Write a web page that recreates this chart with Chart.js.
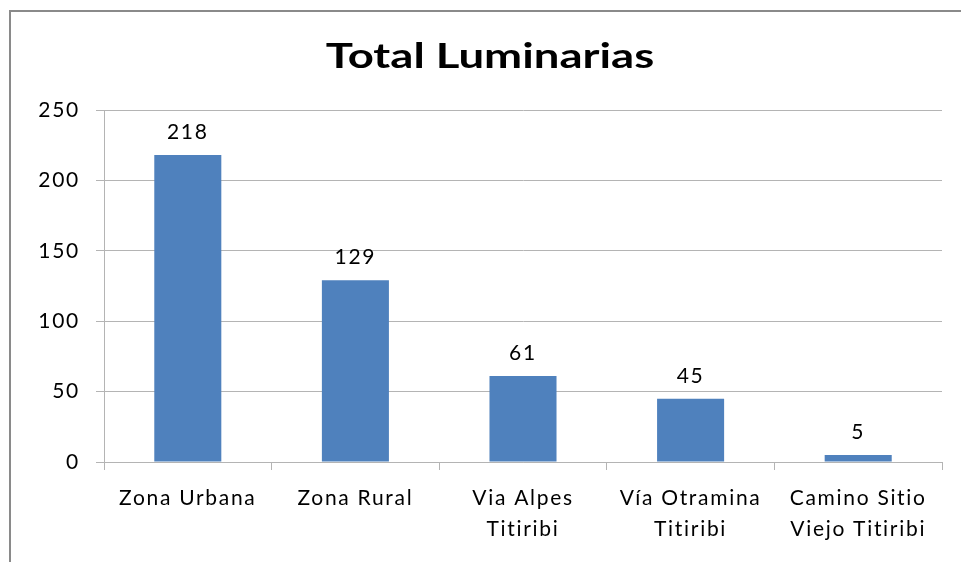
<!DOCTYPE html>
<html>
<head>
<meta charset="utf-8">
<script src="https://cdn.jsdelivr.net/npm/chart.js@4"></script>
<style>
  html, body { margin: 0; padding: 0; background: #fff; }
  #wrap { width: 961px; height: 562px; position: relative; }
</style>
</head>
<body>
<div id="wrap"><canvas id="chart" width="961" height="562"></canvas></div>
<script>
const chartTitle = 'Total Luminarias';
const categories = [
  'Zona Urbana',
  'Zona Rural',
  ['Via Alpes', 'Titiribi'],
  ['Vía Otramina', 'Titiribi'],
  ['Camino Sitio', 'Viejo Titiribi']
];
const totals = [218, 129, 61, 45, 5];
const yTicks = [0, 50, 100, 150, 200, 250];

const fontFamily = 'Lato, "Open Sans", sans-serif';
const gridGray = '#b4b4b4';
const spacing = '1.7px';

// frame + title, and the wide letter spacing of the original
const framePlugin = {
  id: 'frame',
  beforeUpdate(chart) {
    chart.ctx.letterSpacing = spacing;
  },
  beforeDraw(chart) {
    const c = chart.ctx;
    c.letterSpacing = spacing;
    c.save();
    c.fillStyle = '#fff';
    c.fillRect(0, 0, chart.width, chart.height);
    c.strokeStyle = '#8a8a8a';
    c.lineWidth = 2;
    c.beginPath();
    c.moveTo(10, chart.height + 5);
    c.lineTo(10, 11);
    c.lineTo(chart.width + 5, 11);
    c.stroke();
    c.restore();
  },
  afterDraw(chart) {
    const c = chart.ctx;
    c.save();
    c.letterSpacing = '0px';
    c.fillStyle = '#000';
    c.font = 'bold 35px ' + fontFamily;
    c.textAlign = 'center';
    c.textBaseline = 'alphabetic';
    c.translate(490, 68);
    c.scale(1.3, 1);
    c.fillText(chartTitle, 0, 0);
    c.restore();
  }
};

// value labels above bars
const valuePlugin = {
  id: 'values',
  afterDatasetsDraw(chart) {
    const c = chart.ctx;
    const meta = chart.getDatasetMeta(0);
    c.save();
    c.fillStyle = '#000';
    c.font = '21px ' + fontFamily;
    c.textAlign = 'center';
    c.textBaseline = 'alphabetic';
    meta.data.forEach((bar, i) => {
      c.fillText(String(totals[i]), bar.x, bar.y - 16);
    });
    c.restore();
  }
};

new Chart(document.getElementById('chart'), {
  type: 'bar',
  data: {
    labels: categories,
    datasets: [{
      data: totals,
      backgroundColor: '#4f81bd',
      borderWidth: 0,
      categoryPercentage: 1,
      barPercentage: 0.4
    }]
  },
  options: {
    responsive: false,
    animation: false,
    layout: { padding: { top: 110, right: 19, left: 0, bottom: 0 } },
    plugins: {
      legend: { display: false },
      title: { display: false },
      tooltip: { enabled: false }
    },
    scales: {
      x: {
        afterFit(scale) { scale.height = 100; },
        grid: {
          offset: true,
          drawOnChartArea: false,
          drawTicks: true,
          tickLength: 8,
          color: gridGray
        },
        border: { color: gridGray },
        ticks: {
          color: '#000',
          font: { family: fontFamily, size: 21, lineHeight: 1.5 },
          padding: 12,
          maxRotation: 0,
          autoSkip: false
        }
      },
      y: {
        min: 0,
        max: 250,
        afterFit(scale) { scale.width = 104; },
        afterBuildTicks(scale) { scale.ticks = yTicks.map(v => ({ value: v })); },
        grid: {
          color: gridGray,
          drawTicks: true,
          tickLength: 8
        },
        border: { color: gridGray },
        ticks: {
          color: '#000',
          font: { family: fontFamily, size: 21 },
          padding: 16
        }
      }
    }
  },
  plugins: [framePlugin, valuePlugin]
});
</script>
</body>
</html>
